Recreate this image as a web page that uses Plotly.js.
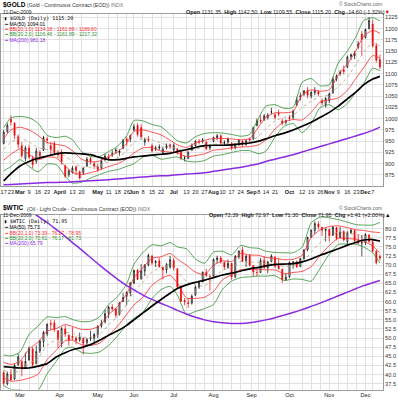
<!DOCTYPE html>
<html><head><meta charset="utf-8">
<script src="https://cdn.plot.ly/plotly-3.0.1.min.js"></script>
<style>html,body{margin:0;padding:0;background:#fff}#chart{width:398px;height:400px}</style>
</head><body><div id="chart"></div>
<script>
// ---- trading calendar (categories) ----
const startDate = '2009-02-17', endDate = '2009-12-11';
const holidays = ['2009-04-10','2009-05-25','2009-07-03','2009-09-07','2009-11-26'];
function buildTradingDays(){
  const out=[]; let d=new Date(startDate+'T00:00:00Z'); const end=new Date(endDate+'T00:00:00Z');
  while(d<=end){const wd=d.getUTCDay(); const s=d.toISOString().slice(0,10);
    if(wd!==0&&wd!==6&&!holidays.includes(s)) out.push(s); d=new Date(d.getTime()+86400000);}
  return out;
}
const tradingDays = buildTradingDays();
const candleDates = tradingDays.filter((d,i)=>i%2===0);

// weekly dates for indicator lines
const weekDates = ['2009-02-17','2009-02-23','2009-03-02','2009-03-09','2009-03-16','2009-03-23','2009-03-30','2009-04-06','2009-04-13','2009-04-20','2009-04-27','2009-05-04','2009-05-11','2009-05-18','2009-05-26','2009-06-01','2009-06-08','2009-06-15','2009-06-22','2009-06-29','2009-07-06','2009-07-13','2009-07-20','2009-07-27','2009-08-03','2009-08-10','2009-08-17','2009-08-24','2009-08-31','2009-09-08','2009-09-14','2009-09-21','2009-09-28','2009-10-05','2009-10-12','2009-10-19','2009-10-26','2009-11-02','2009-11-09','2009-11-16','2009-11-23','2009-11-30','2009-12-07','2009-12-11'];

// x tick labels
const tickDates = ['2009-02-17','2009-02-23','2009-03-02','2009-03-09','2009-03-16','2009-03-23','2009-04-01','2009-04-13','2009-04-20','2009-05-01','2009-05-11','2009-05-18','2009-05-26','2009-06-01','2009-06-08','2009-06-15','2009-06-22','2009-07-01','2009-07-13','2009-07-20','2009-07-27','2009-08-03','2009-08-10','2009-08-17','2009-08-24','2009-09-01','2009-09-08','2009-09-14','2009-09-21','2009-10-01','2009-10-12','2009-10-19','2009-10-26','2009-11-02','2009-11-09','2009-11-16','2009-11-23','2009-12-01','2009-12-07'];
const goldTickText = ['17','23','<b>Mar</b>','9','16','23','<b>April</b>','13','20','<b>May</b>','11','18','26','<b>Jun</b>','8','15','22','<b>Jul</b>','13','20','27','<b>Aug</b>','10','17','24','<b>Sep</b>','8','14','21','<b>Oct</b>','12','19','26','<b>Nov</b>','9','16','23','<b>Dec</b>','7'];
const oilTickText = ['','','Mar','','','','Apr','','','May','','','','Jun','','','','Jul','','','','Aug','','','','Sep','','','','Oct','','','','Nov','','','','Dec',''];
const goldYTicks = [875,900,925,950,975,1000,1025,1050,1075,1100,1125,1150,1175,1200,1225];
const oilYTicks = [37.5,40,42.5,45,47.5,50,52.5,55,57.5,60,62.5,65,67.5,70,72.5,75,77.5,80];

// ---- $GOLD candles (every other trading day) ----
const goldOpen  = [945,972,998,990,960,940,912,935,912,905,925,930,955,940,945,922,926,895,875,880,893,882,880,895,912,900,893,890,910,915,920,928,925,935,955,955,975,985,980,948,955,940,933,935,925,935,942,930,932,925,912,912,930,940,950,950,948,935,950,958,962,945,948,945,935,942,950,942,955,955,985,997,998,1003,1015,1008,1012,995,992,1003,1003,1030,1048,1055,1063,1050,1058,1060,1040,1030,1040,1058,1088,1100,1108,1115,1138,1140,1160,1188,1180,1200,1210,1162,1131.35];
const goldHigh  = [975,990,1007,992,965,948,940,942,918,935,930,962,960,948,950,930,932,898,888,895,896,885,892,915,915,905,900,910,922,922,930,935,932,955,960,965,988,990,988,958,962,945,940,943,938,945,945,945,935,928,918,928,945,952,955,957,950,943,960,966,965,952,958,948,945,955,953,955,958,982,1000,1008,1010,1012,1024,1012,1020,1000,998,1008,1020,1048,1058,1063,1070,1062,1070,1063,1045,1048,1058,1093,1098,1108,1118,1140,1145,1150,1172,1195,1200,1226,1220,1168,1142.5];
const goldLow   = [943,968,985,955,935,912,905,910,890,900,912,928,945,920,918,912,898,868,870,878,875,865,875,893,898,888,882,887,905,907,915,922,918,932,940,948,972,960,955,940,948,925,928,930,920,932,932,925,920,908,905,910,928,938,943,945,930,930,948,952,942,940,944,930,932,940,937,940,945,953,983,990,995,998,1010,998,1005,985,987,995,998,1028,1040,1050,1045,1045,1052,1050,1030,1025,1035,1055,1083,1095,1098,1112,1130,1132,1155,1140,1178,1198,1158,1125,1109.55];
const goldClose = [970,985,993,963,943,918,935,915,898,928,918,958,953,932,925,920,905,872,884,890,885,868,890,910,905,895,887,905,917,913,922,930,928,952,950,962,982,965,960,953,952,928,935,937,932,940,937,941,928,912,913,925,940,950,948,953,933,938,958,962,946,947,955,935,942,952,943,951,953,980,995,995,1006,1008,1015,1003,1010,990,995,1000,1017,1042,1050,1062,1052,1058,1062,1055,1035,1045,1055,1088,1095,1103,1105,1137,1142,1145,1166,1176,1198,1218,1162,1130,1115.2];

// ---- $GOLD indicators (weekly) ----
const goldMA50  = [862,878,895,905,912,917,922,924,923,922,920,914,909,909,912,915,917,919,921,923,927,931,936,940,941,941,942,944,946,950,955,962,968,975,983,992,1003,1014,1028,1044,1060,1075,1088,1094.01];
const goldMA200 = [853,854,855,856,857,858,858.5,859,860,861,862,863,864.5,866,867.5,869,870.5,872,873,874,875.5,877,878,880,883,886,889,892,896,900,905,910,915,920,926,932,938,944,950,956,962,967,974,981.18];
const goldBBmid = [932,948,957,948,936,931,928,917,905,893,892,896,905,913,928,948,955,953,946,939,933,926,932,937,943,944,945,945,947,962,978,995,1003,1007,1025,1039,1049,1053,1072,1092,1122,1148,1168,1161.89];
const goldBB1up = [956,975,981,975,963,947,943,939,929,910,904,906,916,926,945,972,975,970,964,952,942,936,946,952,956,956,955,953,956,982,1003,1013,1013,1016,1053,1064,1061,1064,1098,1121,1153,1183,1196,1189.60];
const goldBB1lo = [908,921,933,921,909,915,913,895,881,876,880,886,894,900,911,924,935,936,928,926,924,916,918,922,930,932,935,937,938,942,953,977,993,998,997,1014,1037,1042,1046,1063,1091,1113,1140,1134.18];
const goldBB2up = [980,1002,1005,1002,990,963,958,961,953,927,916,916,927,939,962,996,995,987,982,965,951,946,960,967,969,968,965,961,965,1002,1028,1031,1023,1025,1081,1089,1073,1075,1124,1150,1184,1218,1224,1217.32];
const goldBB2lo = [884,894,909,894,882,899,898,873,857,859,868,876,883,887,894,900,915,919,910,913,915,906,904,907,917,920,925,929,929,922,928,959,983,989,969,989,1025,1031,1020,1034,1060,1078,1112,1106.46];

// ---- $WTIC candles (every other trading day) ----
const oilOpen  = [40.5,37.5,40.0,38.8,42.8,43.5,41.8,44.0,47.0,43.0,46.5,49.0,51.2,54.0,54.2,52.0,48.5,52.5,50.8,50.5,50.0,49.5,50.0,48.7,49.8,50.0,51.0,53.3,54.5,56.7,58.5,58.0,56.5,60.0,61.5,62.5,65.1,68.6,66.3,68.4,70.0,72.5,70.7,71.2,69.4,68.7,69.5,71.3,69.0,64.0,60.3,59.7,59.6,61.8,64.0,65.5,68.0,66.9,67.0,71.5,72.0,70.8,69.4,70.5,66.8,72.3,74.2,71.2,72.7,69.9,68.0,68.0,71.3,69.2,71.0,72.1,69.8,68.9,66.0,66.8,70.8,70.9,69.6,71.8,74.2,77.7,79.5,81.3,80.4,79.5,79.8,78.2,80.3,77.5,79.2,76.5,78.9,79.5,76.8,76.1,76.2,78.3,76.4,73.9,72.39];
const oilHigh  = [41.0,40.8,41.5,43.0,45.7,44.0,46.0,47.7,47.5,48.0,49.6,52.0,54.0,55.0,55.0,52.2,53.0,53.5,51.0,53.0,50.5,51.5,50.0,50.0,52.0,51.4,53.5,55.0,57.8,58.8,59.3,58.3,59.8,62.3,62.8,65.4,68.7,69.0,70.3,70.3,73.2,72.8,71.4,72.0,69.6,70.6,72.5,72.0,69.1,64.5,61.0,61.0,62.0,64.5,65.8,68.2,69.0,67.5,71.8,72.6,72.5,71.0,71.5,70.6,72.8,74.0,75.0,72.9,73.0,70.0,68.8,72.0,72.5,71.2,73.0,72.5,72.0,69.0,67.6,71.0,71.0,71.3,72.0,74.3,77.8,79.8,82.0,82.0,80.5,80.0,80.0,80.8,80.5,80.5,79.6,79.3,80.0,79.7,78.5,78.3,78.8,78.5,77.0,74.0,72.97];
const oilLow   = [37.0,37.0,38.3,38.5,42.3,39.5,41.5,43.8,42.0,42.8,45.9,47.5,50.5,52.2,51.7,47.3,47.5,50.3,47.9,49.5,48.3,49.0,45.5,47.8,49.2,48.5,50.0,52.8,54.0,55.5,57.4,55.5,56.2,60.0,59.0,61.5,64.8,66.0,66.0,67.0,69.7,70.0,69.5,69.3,66.1,67.8,69.0,68.5,63.5,59.9,59.0,58.3,59.2,61.5,63.5,65.3,66.8,63.0,66.8,70.5,70.4,68.8,69.0,66.0,66.5,71.7,70.8,69.5,69.6,67.0,67.0,67.9,69.0,67.8,70.8,69.2,68.8,65.1,65.7,66.5,69.0,69.2,69.5,71.5,73.8,77.5,78.5,79.8,78.0,76.5,76.5,78.0,76.8,77.4,76.5,75.5,78.5,76.3,75.8,72.4,75.5,76.0,73.5,70.2,71.30];
const oilClose = [37.6,40.2,38.6,42.5,44.8,41.7,43.6,47.1,42.7,46.3,49.2,51.6,53.8,53.8,52.4,49.7,52.6,51.1,49.4,50.1,49.3,50.3,48.6,49.6,50.1,51.0,53.2,54.1,56.7,58.5,58.0,56.3,59.7,61.1,62.5,65.1,68.6,66.1,68.4,70.0,72.7,70.6,71.0,69.6,68.7,70.2,71.5,69.3,64.1,60.1,59.9,59.5,61.5,64.0,65.4,68.1,67.2,66.9,71.6,72.0,70.9,69.5,70.5,66.8,72.4,73.9,71.1,72.5,70.0,68.1,68.0,71.3,69.3,70.9,72.5,69.7,69.0,66.0,66.7,70.8,70.9,69.6,71.8,74.2,77.6,79.6,81.4,80.5,79.6,79.9,78.1,80.4,77.4,79.1,76.9,78.9,79.6,76.7,76.0,76.1,78.4,76.5,73.9,70.7,71.95];

// ---- $WTIC indicators (weekly) ----
const oilMA50  = [42.2,42.0,41.8,41.8,42.3,43.0,44.8,46.0,46.8,47.4,48.2,49.4,50.8,52.0,53.5,55.0,56.9,58.8,60.6,62.3,63.6,64.6,65.3,65.9,66.6,67.3,67.8,68.4,69.0,69.4,69.8,70.2,70.3,70.4,70.9,71.7,72.7,73.6,74.5,75.5,76.3,76.9,77.0,76.6];
const oilMA200 = [90.5,88.5,86.5,85.0,83.4,81.7,79.8,77.9,76.2,74.2,72.1,70.0,68.0,66.1,64.4,63.2,61.8,60.6,59.5,58.5,57.6,56.6,55.7,55.0,54.5,54.2,54.0,54.0,54.2,54.6,55.0,55.6,56.3,57.0,57.8,58.7,59.6,60.6,61.6,62.6,63.6,64.4,65.2,65.79];
const oilBBmid = [41.2,40.5,41.0,43.0,44.5,48.0,49.6,51.5,51.3,50.3,50.2,51.0,53.6,56.0,59.3,62.8,65.3,68.2,69.3,70.2,68.4,65.5,64.5,64.3,66.4,68.6,69.2,71.0,70.8,70.8,70.4,70.3,69.6,69.8,70.5,73.6,76.2,78.0,79.1,78.8,78.4,78.0,77.2,76.17];
const oilBB1up = [43.3,42.8,43.6,47.0,48.9,51.9,52.6,53.7,53.2,52.4,52.4,53.4,56.4,58.7,62.1,66.5,69.4,71.9,72.3,73.2,71.7,70.0,68.1,67.4,70.0,71.2,71.0,73.2,72.8,72.7,72.1,71.9,71.5,71.6,72.7,77.6,79.7,80.6,80.8,80.3,79.7,79.5,79.1,78.95];
const oilBB1lo = [39.1,38.2,38.4,39.0,40.1,44.1,46.6,49.3,49.4,48.2,48.0,48.6,50.8,53.3,56.5,59.1,61.2,64.5,66.3,67.2,65.1,61.0,60.9,61.2,62.8,66.0,67.4,68.8,68.8,68.9,68.7,68.7,67.7,68.0,68.3,69.6,72.7,75.4,77.4,77.3,77.1,76.5,75.3,73.39];
const oilBB2up = [45.4,45.1,46.2,51.0,53.3,55.8,55.6,55.9,55.1,54.5,54.6,55.8,59.2,61.4,64.9,70.2,73.5,75.6,75.3,76.2,75.0,74.5,71.7,70.5,73.6,73.8,72.8,75.4,74.8,74.6,73.8,73.5,73.4,73.4,74.9,81.6,83.2,83.0,82.5,81.8,81.1,81.0,81.0,81.73];
const oilBB2lo = [37.0,35.9,35.8,35.0,35.7,40.2,43.6,47.1,47.5,46.1,45.8,46.2,48.0,50.6,53.7,55.4,57.1,60.8,63.3,64.2,61.8,56.5,57.3,58.1,59.2,63.4,65.6,66.6,66.8,67.0,67.0,67.1,65.8,66.2,66.1,65.6,69.2,73.0,75.7,75.8,75.7,75.0,73.4,70.61];

// ---- colours ----
const C_MA50='#000000', C_MA200='#8a2be2', C_BB1='#ff2a2a', C_BB2='#2f8f2f', C_MID='#b3a07a', C_UP='#000000', C_DN='#e60000';
const FONT='Liberation Sans, Arial, sans-serif';

function lineTrace(x,y,color,width,xa,ya,dash){
  return {type:'scatter',mode:'lines',x:x,y:y,xaxis:xa,yaxis:ya,hoverinfo:'skip',
    line:{color:color,width:width,shape:'spline',smoothing:0.6,dash:dash||'solid'}};
}
function candleTrace(o,h,l,c,xa,ya){
  return {type:'candlestick',x:candleDates,open:o,high:h,low:l,close:c,xaxis:xa,yaxis:ya,hoverinfo:'skip',whiskerwidth:0,
    increasing:{line:{color:C_UP,width:0.7},fillcolor:'#ffffff'},
    decreasing:{line:{color:C_DN,width:0.7},fillcolor:C_DN}};
}

const data = [
  candleTrace(goldOpen,goldHigh,goldLow,goldClose,'x','y'),
  lineTrace(weekDates,goldBB2up,C_BB2,0.8,'x','y'),
  lineTrace(weekDates,goldBB2lo,C_BB2,0.8,'x','y'),
  lineTrace(weekDates,goldBB1up,C_BB1,0.8,'x','y'),
  lineTrace(weekDates,goldBB1lo,C_BB1,0.8,'x','y'),
  lineTrace(weekDates,goldBBmid,C_MID,0.8,'x','y','dot'),
  lineTrace(weekDates,goldMA200,C_MA200,1.5,'x','y'),
  lineTrace(weekDates,goldMA50,C_MA50,1.7,'x','y'),
  candleTrace(oilOpen,oilHigh,oilLow,oilClose,'x2','y2'),
  lineTrace(weekDates,oilBB2up,C_BB2,0.8,'x2','y2'),
  lineTrace(weekDates,oilBB2lo,C_BB2,0.8,'x2','y2'),
  lineTrace(weekDates,oilBB1up,C_BB1,0.8,'x2','y2'),
  lineTrace(weekDates,oilBB1lo,C_BB1,0.8,'x2','y2'),
  lineTrace(weekDates,oilBBmid,C_MID,0.8,'x2','y2','dot'),
  lineTrace(weekDates,oilMA200,C_MA200,1.5,'x2','y2'),
  lineTrace(weekDates,oilMA50,C_MA50,1.7,'x2','y2')
];

const GRID='#e1e1e1', FRAME='#9c9c9c';
function xAxis(anchor,ticktext){
  return {anchor:anchor,domain:[0,1],type:'category',categoryorder:'array',categoryarray:tradingDays,
    range:[-1.5,209.7],tickmode:'array',tickvals:tickDates,ticktext:ticktext,tickangle:0,
    showgrid:true,gridcolor:GRID,gridwidth:1,ticks:'',showline:true,mirror:true,linecolor:FRAME,linewidth:1,
    tickfont:{family:FONT,size:5.6,color:'#222'},rangeslider:{visible:false},fixedrange:true,zeroline:false,automargin:false};
}
function yAxis(anchor,domain,range,ticks,fmt){
  return {anchor:anchor,domain:domain,side:'right',range:range,tickmode:'array',tickvals:ticks,tickformat:fmt,
    showgrid:true,gridcolor:GRID,gridwidth:1,ticks:'',showline:true,mirror:true,linecolor:FRAME,linewidth:1,
    tickfont:{family:FONT,size:5.6,color:'#333'},zeroline:false,fixedrange:true,automargin:false};
}

// text positions (paper coords from pixel positions)
function PX(px){return (px-1)/382;}
function PY(py){return 1-py/400;}
function txt(px,py,text,size,color,anchor,extra){
  return Object.assign({xref:'paper',yref:'paper',x:PX(px),y:PY(py),text:text,showarrow:false,
    xanchor:anchor||'left',yanchor:'middle',font:{family:FONT,size:size,color:color||'#000'}},extra||{});
}
const span=(c,t)=>'<span style="color:'+c+'">'+t+'</span>';
const MONO={family:'DejaVu Sans Mono, monospace',size:5,color:'#000'};
const annotations = [
  // GOLD header
  txt(0.5,4.6,'<b>$GOLD</b>',6.5,'#000'),
  txt(24.5,5.2,'(Gold - Continuous Contract (EOD))'+span('#777',' INDX'),5.2,'#333'),
  txt(0.5,11.9,'11-Dec-2009',5,'#222'),
  txt(392,11.6,'<b>Open</b> 1131.35  <b>High</b> 1142.50  <b>Low</b> 1109.55  <b>Close</b> 1115.20  <b>Chg</b> -14.60 (-1.32%)'+span(C_DN,'▼'),5.5,'#222','right'),
  txt(384,4.5,'© StockCharts.com',5,'#666','right'),
  // GOLD legend
  txt(2,18.2,'▮ $GOLD (Daily) 1115.20',5,'#000','left',{font:MONO}),
  txt(2,23.6,'━ MA(50) 1094.01',5,C_MA50),
  txt(2,29.0,'━ BB(20,1.0) 1134.18 - 1161.89 - 1189.60',5,C_BB1),
  txt(2,34.4,'━ BB(20,2.0) 1106.46 - 1161.89 - 1217.32',5,C_BB2),
  txt(2,39.8,'━ MA(200) 981.18',5,C_MA200),
  // WTIC header
  txt(0.5,208.3,'<b>$WTIC</b>',6.5,'#000'),
  txt(24.5,208.9,'(Oil - Light Crude - Continuous Contract (EOD))'+span('#777',' INDX'),5.2,'#333'),
  txt(0.5,215.4,'11-Dec-2009',5,'#222'),
  txt(392,214.6,'<b>Open</b> 72.39  <b>High</b> 72.97  <b>Low</b> 71.30  <b>Close</b> 71.95  <b>Chg</b> +1.41 (+2.00%)'+span('#000','▲'),5.5,'#222','right'),
  txt(384,208.3,'© StockCharts.com',5,'#666','right'),
  // WTIC legend
  txt(2,221.7,'▮ $WTIC (Daily) 71.95',5,'#000','left',{font:MONO}),
  txt(2,227.1,'━ MA(50) 75.73',5,C_MA50),
  txt(2,232.5,'━ BB(20,1.0) 73.39 - 76.17 - 78.95',5,C_BB1),
  txt(2,237.9,'━ BB(20,2.0) 70.61 - 76.17 - 81.73',5,C_BB2),
  txt(2,243.3,'━ MA(200) 65.79',5,C_MA200)
];

const layout = {
  width:398,height:400,margin:{l:1,r:15,t:0,b:0},paper_bgcolor:'#fff',plot_bgcolor:'#fff',
  showlegend:false,boxgap:0.25,boxgroupgap:0.25,
  xaxis:xAxis('y',goldTickText),
  yaxis:yAxis('x',[0.535,0.96625],[850.5,1233.5],goldYTicks,'d'),
  xaxis2:xAxis('y2',oilTickText),
  yaxis2:yAxis('x2',[0.02625,0.4625],[35.9,83.76],oilYTicks,'.1f'),
  annotations:annotations,
  font:{family:FONT}
};
Plotly.newPlot('chart',data,layout,{staticPlot:true,displayModeBar:false});
</script>
</body></html>
